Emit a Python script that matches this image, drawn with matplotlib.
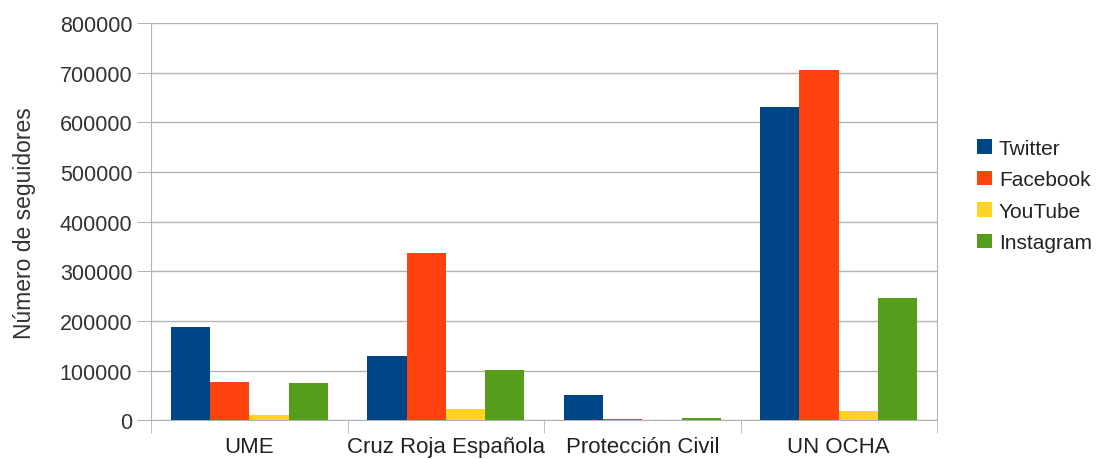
import matplotlib
matplotlib.use("Agg")
from matplotlib import pyplot as plt
import numpy as np

categories = ["UME", "Cruz Roja Española", "Protección Civil", "UN OCHA"]
series = ["Twitter", "Facebook", "YouTube", "Instagram"]
twitter = [188000, 129000, 51000, 630000]
facebook = [77000, 337000, 2000, 705000]
youtube = [11000, 22000, 500, 19000]
instagram = [76000, 101000, 5500, 247000]
colors = ["#004586", "#ff420e", "#ffd320", "#579d1c"]

plt.rcParams['font.family'] = ['Liberation Sans', 'DejaVu Sans']

fig = plt.figure(figsize=(11.03, 4.6), dpi=100)
ax = fig.add_axes([0.137, 0.084, 0.7125, 0.864])

x = np.arange(len(categories))
w = 0.2
for i, (name, vals) in enumerate(zip(series, [twitter, facebook, youtube, instagram])):
    ax.bar(x + (i - 1.5) * w, vals, width=w, color=colors[i], label=name, zorder=3)

ax.set_xlim(-0.5, len(categories) - 0.5)
ax.set_ylim(0, 800000)
ax.set_yticks(np.arange(0, 800001, 100000))
ax.yaxis.grid(True, color='#b3b3b3', linewidth=1, zorder=0)
ax.set_xticks(x)
ax.set_xticklabels(categories, fontsize=16, color='#222222')
ax.tick_params(axis='x', length=0, pad=11.5)
ax.tick_params(axis='y', length=10, color='#b3b3b3', labelsize=15.5, labelcolor='#333333')
ax.set_xticks(np.arange(-0.5, len(categories)), minor=True)
ax.tick_params(axis='x', which='minor', length=9, color='#b3b3b3')
ax.set_ylabel("Número de seguidores", fontsize=16.5, color='#333333', labelpad=17)

for s in ['left', 'bottom', 'right']:
    ax.spines[s].set_color('#b3b3b3')
ax.spines['top'].set_visible(False)

fig.legend(loc='center left', bbox_to_anchor=(0.8858, 0.573), frameon=False,
           borderaxespad=0, borderpad=0,
           fontsize=15, handlelength=0.7, handleheight=0.7, handletextpad=0.35,
           labelspacing=0.6, labelcolor='#222222')

fig.savefig("out.png", dpi=100)
